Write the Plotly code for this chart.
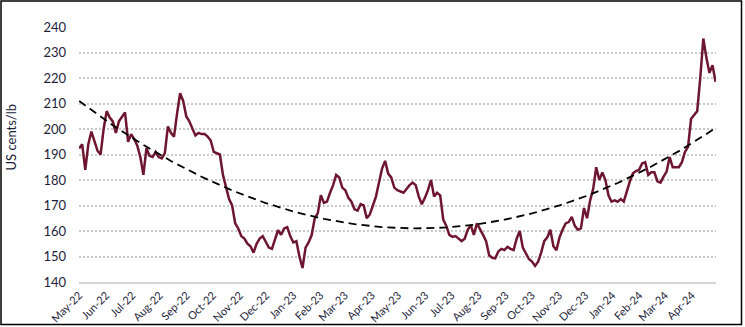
import numpy as np
import pandas as pd
import plotly.graph_objects as go

price = [
    192.4, 194, 184, 194, 199, 195.5, 191.5, 190, 200, 207,
    204.5, 203, 198.5, 203, 205, 206.5, 195, 198, 196, 193.5,
    189, 182, 192.5, 189.5, 189, 191, 189, 188.5, 190.5, 201,
    198.5, 197, 206, 214, 211, 205, 203, 200.5, 197.5, 198.5,
    198, 198, 197, 195.5, 191, 190.5, 190, 182, 177, 172.5,
    170, 163, 161, 158, 157, 155, 154, 151.5, 155, 157,
    158, 155.5, 153.5, 153, 157, 160.3, 158.5, 161, 161.5, 158,
    155.5, 156, 150, 145.5, 153.5, 155.5, 158.4, 165, 167, 174,
    171, 171.5, 175, 178, 182, 181, 177, 176, 173, 171.5,
    168.5, 168, 170.5, 170, 165, 166.5, 170, 173.5, 179, 184.5,
    187.5, 182.5, 181, 177, 176, 175.5, 175, 176.5, 178, 179,
    178, 173.5, 170.5, 173, 176, 180, 173.5, 175, 174, 164.5,
    162, 158.5, 157.7, 158, 157, 156, 157, 160.5, 162.3, 158.5,
    163, 161, 158.5, 156, 150.5, 149.5, 149.3, 152, 153, 152.5,
    153.8, 153, 152.5, 157, 160, 153.5, 151, 149, 148, 146.3,
    148, 151.5, 156, 157.5, 160.5, 154, 152.5, 157.5, 160.5, 163,
    163.5, 165.5, 162, 160.5, 161, 169, 165, 172, 176.5, 185,
    180, 183, 180, 174, 171.5, 172, 171.5, 172.5, 171.5, 176,
    179.5, 182.6, 183.5, 184, 186.5, 187, 182, 183, 183, 179.5,
    179, 181.3, 183.3, 189, 185, 185, 185, 187, 191, 193,
    204, 205.5, 207, 220, 235.5, 228, 222, 225, 218.5,
]

start_date = "2022-05-01"
dates = pd.date_range(start_date, periods=len(price), freq="84h")

y_ticks = list(range(140, 241, 10))
y_title = "US cents/lb"

# Polynomial (order 2) trendline, as in the original chart
days = np.asarray((dates - dates[0]).total_seconds() / 86400.0)
coef = np.polyfit(days, np.asarray(price, dtype=float), 2)
trend = np.polyval(coef, days)

font_family = "Lato, 'Open Sans', sans-serif"
text_color = "#1d1d38"

fig = go.Figure()
fig.add_trace(go.Scatter(
    x=dates, y=price, mode="lines",
    line=dict(color="#6e1631", width=2.5),
    hoverinfo="skip", showlegend=False,
))
fig.add_trace(go.Scatter(
    x=dates, y=trend, mode="lines",
    line=dict(color="#000000", width=1.8, dash="8px,5px"),
    hoverinfo="skip", showlegend=False,
))

L, R, T, B = 79, 29, 27, 45
W, H = 745, 327
pw, ph = W - L - R, H - T - B

fig.update_layout(
    width=W, height=H,
    margin=dict(l=L, r=R, t=T, b=B, pad=0, autoexpand=False),
    paper_bgcolor="white", plot_bgcolor="white",
    font=dict(family=font_family, size=13, color=text_color),
    showlegend=False,
    xaxis=dict(
        type="date", automargin=False,
        range=[dates[0] - pd.Timedelta(hours=4), dates[-1] + pd.Timedelta(hours=12)],
        tick0=start_date, dtick="M1", tickformat="%b-%y",
        tickangle=-45, ticks="", showgrid=False, zeroline=False,
        showline=True, linecolor="#d4d4d4", linewidth=1.5,
        tickfont=dict(size=11, color=text_color, family=font_family),
        ticklabelstandoff=1,
    ),
    yaxis=dict(
        range=[140, 240], tickvals=y_ticks, automargin=False,
        showgrid=True, gridcolor="#c9c9c9", gridwidth=1.5, griddash="2px,2px",
        zeroline=False, showline=False, ticks="",
        tickfont=dict(size=13, color=text_color, family=font_family),
        ticklabelstandoff=12,
    ),
    annotations=[dict(
        text=y_title, textangle=-90, showarrow=False,
        xref="paper", yref="paper",
        x=(10.5 - L) / pw, y=(H - B - 137) / ph,
        xanchor="center", yanchor="middle",
        font=dict(size=13, color=text_color, family=font_family),
    )],
    shapes=[dict(
        type="rect", xref="paper", yref="paper",
        x0=(1 - L) / pw, x1=(741.5 - L) / pw,
        y0=(H - B - 324.5) / ph, y1=(H - B - 1) / ph,
        line=dict(color="black", width=1.5), fillcolor="rgba(0,0,0,0)",
        layer="above",
    )],
)

fig.write_html("out.html")
